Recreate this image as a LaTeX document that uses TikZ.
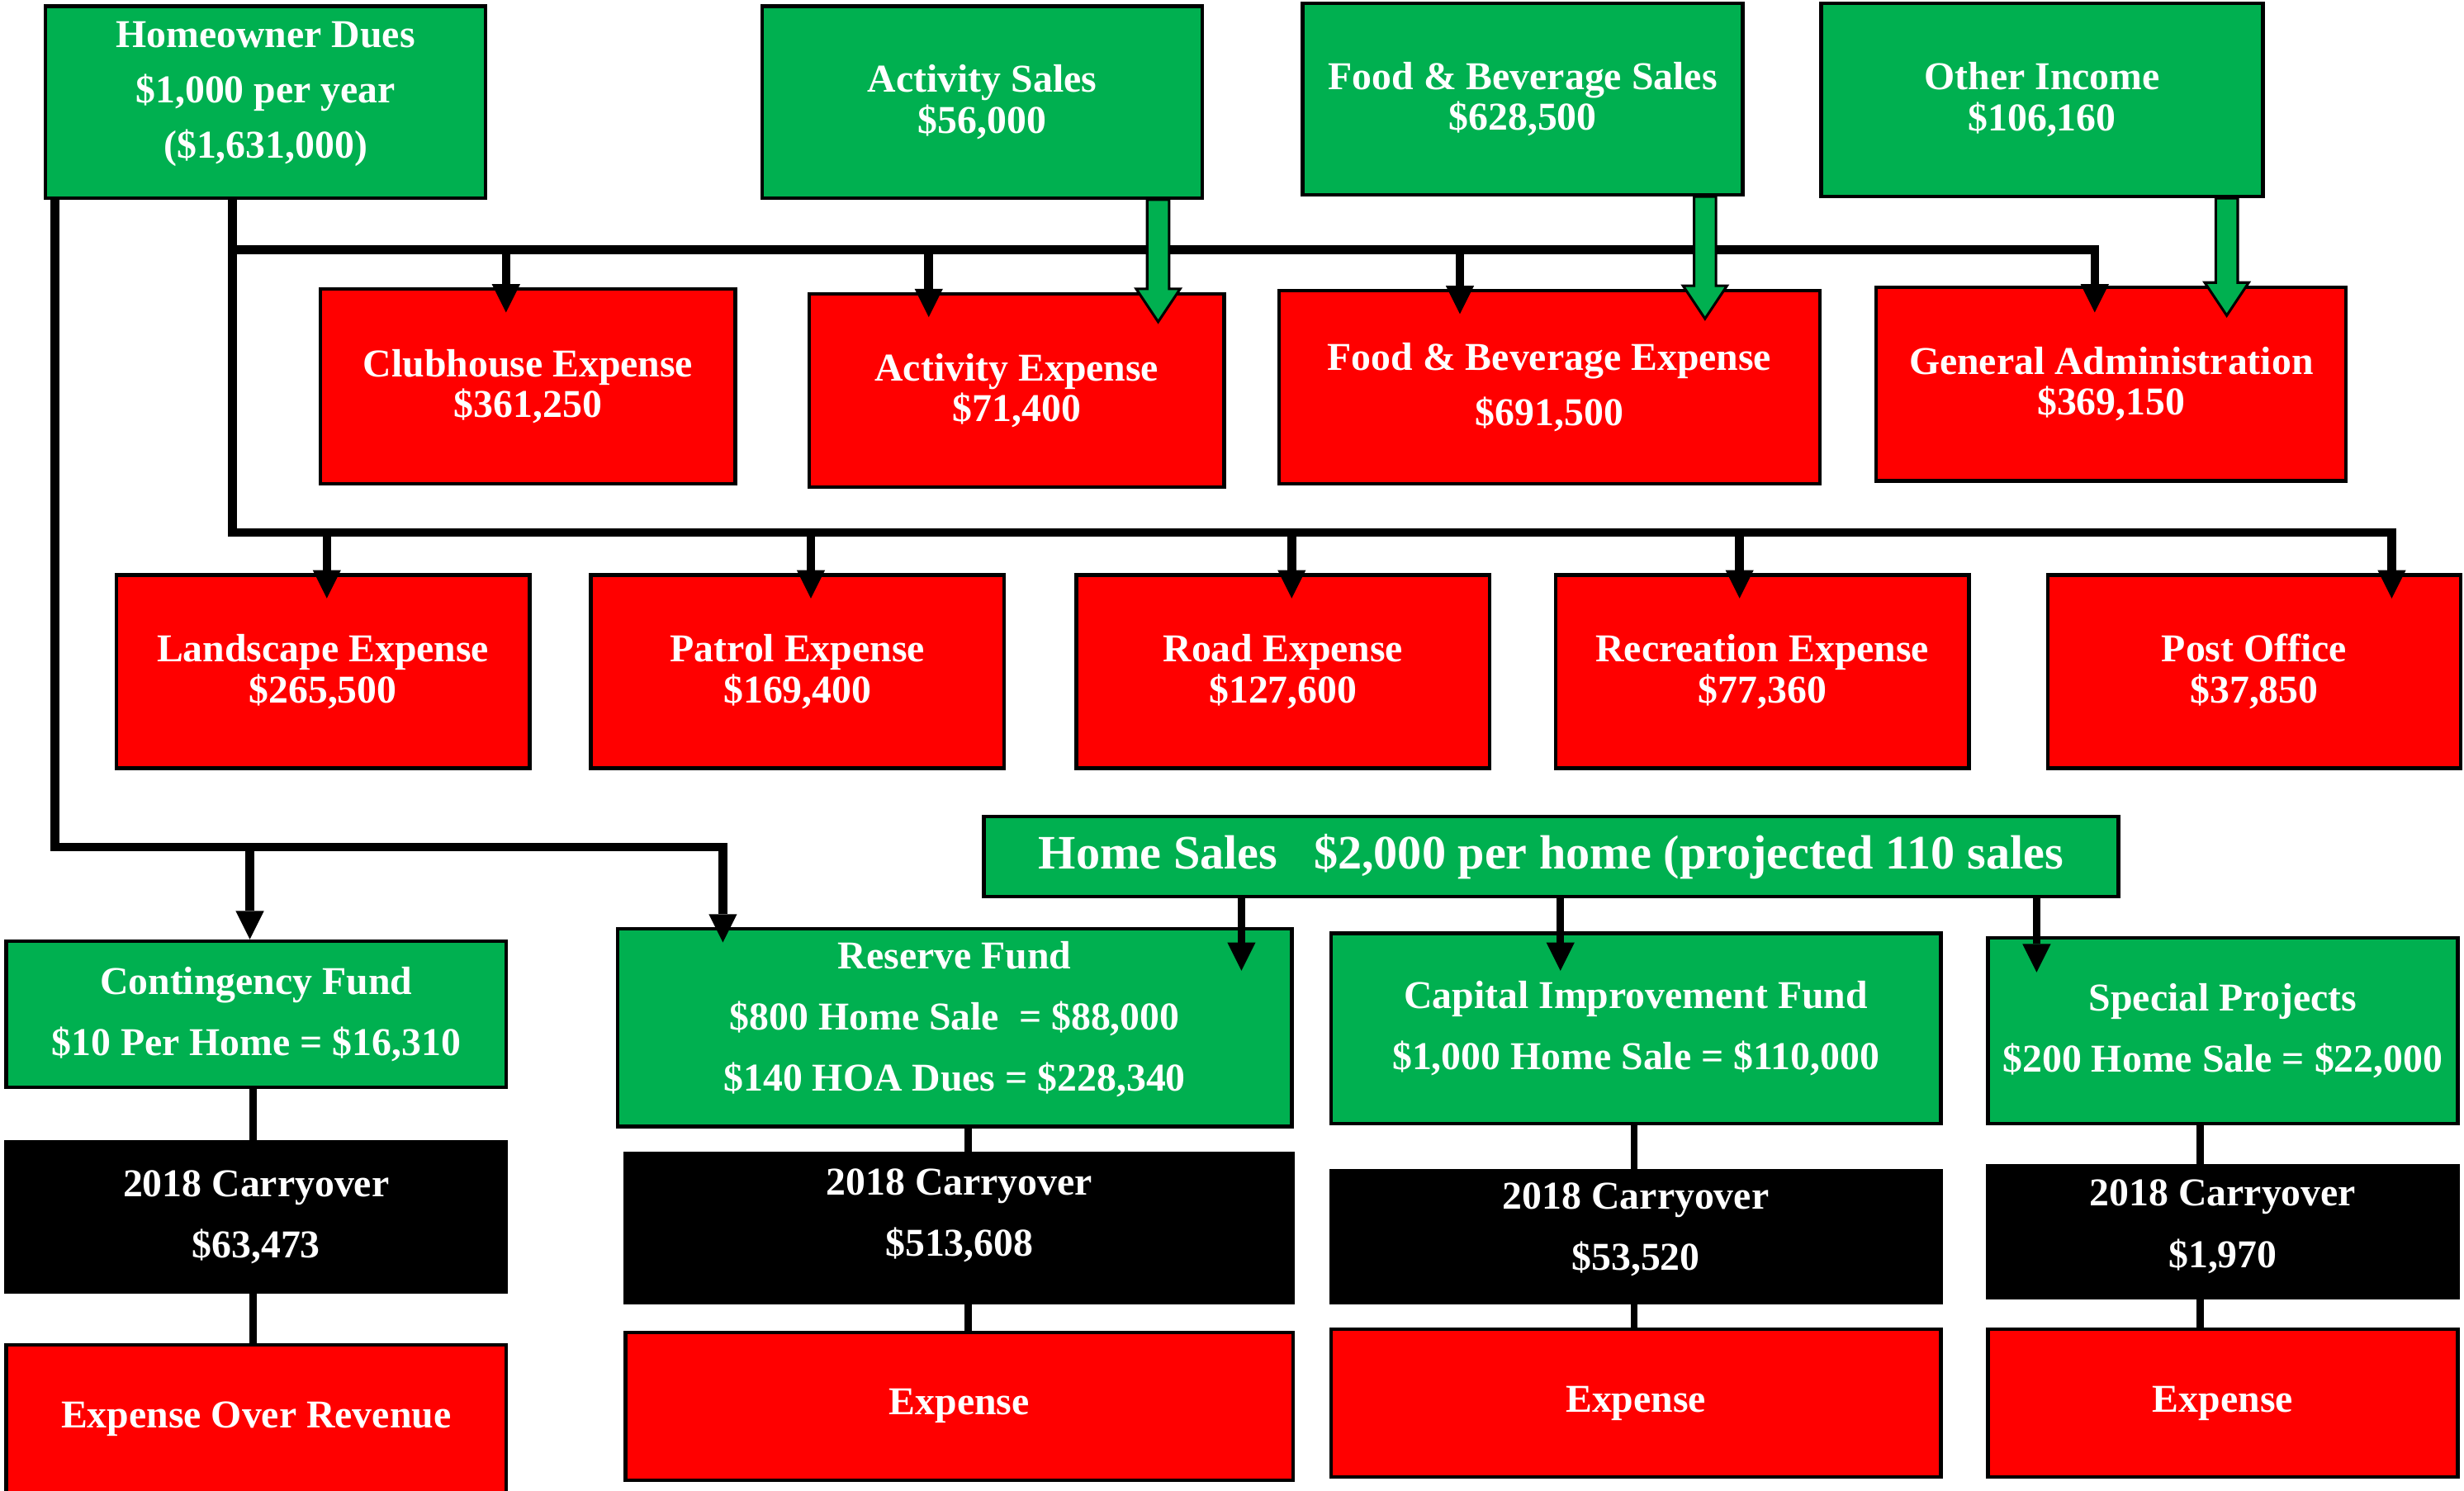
\documentclass[tikz,border=0pt]{standalone}
\usepackage{fontspec}
\setmainfont{Liberation Serif}
\usetikzlibrary{arrows.meta,calc}
\definecolor{hoagreen}{RGB}{0,176,80}
\definecolor{hoared}{RGB}{255,0,0}
\tikzset{
  box/.style  ={draw=black, line width=2.3pt, text=white, align=center, inner sep=0pt},
  gbox/.style ={box, fill=hoagreen},
  rbox/.style ={box, fill=hoared},
  kbox/.style ={box, fill=black},
  wh/.style 2 args={minimum width=#1pt, minimum height=#2pt},
  fA/.style   ={font=\bfseries\fontsize{25.1}{26}\selectfont},
  fB/.style   ={font=\bfseries\fontsize{25.1}{35}\selectfont},
  fC/.style   ={font=\bfseries\fontsize{25.1}{39}\selectfont},
  fH/.style   ={font=\bfseries\fontsize{30.6}{32}\selectfont},
  pipe/.style ={draw=black, line width=5.5pt, line join=miter},
  feed/.style ={pipe, -{Triangle[length=18pt,width=18pt,line width=0pt]}},
  link/.style ={draw=black, line width=4.5pt},
  sale/.style ={link, -{Triangle[length=18pt,width=18pt,line width=0pt]}},
  cash/.style ={fill=hoagreen, draw=black, line width=1.6pt, line join=miter},
}
\begin{document}
\begin{tikzpicture}[x=1pt, y=-1pt]
  \useasboundingbox (0,0) rectangle (1568,949);
  % income
  \node[gbox,wh={280}{122},fB,text depth=15.5pt] (dues) at (169,65) {Homeowner Dues\\\$1,000 per year\\(\$1,631,000)};
  \node[gbox,wh={280}{122},fA] (actS) at (625,65) {Activity Sales\\\$56,000};
  \node[gbox,wh={280}{122},fA] (fbS) at (969,63) {Food \& Beverage Sales\\\$628,500};
  \node[gbox,wh={281}{123},fA] (oth) at (1299.5,63.5) {Other Income\\\$106,160};
  % expenses
  \node[rbox,wh={264}{124},fA] (club) at (336,246) {Clubhouse Expense\\\$361,250};
  \node[rbox,wh={264}{123},fA] (actE) at (647,248.5) {Activity Expense\\\$71,400};
  \node[rbox,wh={344}{123},fB] (fbE) at (986,246.5) {Food \& Beverage Expense\\\$691,500};
  \node[rbox,wh={299}{123},fA] (gadm) at (1343.5,244.5) {General Administration\\\$369,150};
  \node[rbox,wh={263}{123},fA] (land) at (205.5,427.5) {Landscape Expense\\\$265,500};
  \node[rbox,wh={263}{123},fA] (patr) at (507.5,427.5) {Patrol Expense\\\$169,400};
  \node[rbox,wh={263}{123},fA] (road) at (816.5,427.5) {Road Expense\\\$127,600};
  \node[rbox,wh={263}{123},fA] (recr) at (1121.5,427.5) {Recreation Expense\\\$77,360};
  \node[rbox,wh={263}{123},fA] (post) at (1434.5,427.5) {Post Office\\\$37,850};
  % funds
  \node[gbox,wh={722}{51},fH] (home) at (987,545.3) {Home Sales~~~\$2,000 per home (projected 110 sales};
  \node[gbox,wh={318}{93},fC] (cont) at (163,645.5) {Contingency Fund\\\$10 Per Home = \$16,310};
  \node[kbox,wh={318}{95},fC] (contK) at (163,774.5) {2018 Carryover\\\$63,473};
  \node[rbox,wh={318}{94},fC] (contR) at (163,903) {Expense Over Revenue};
  \node[gbox,wh={429}{126},fC,text depth=14.5pt] (resv) at (607.5,654) {Reserve Fund\\\$800 Home Sale~~= \$88,000\\\$140 HOA Dues = \$228,340};
  \node[kbox,wh={425}{95},fC,text depth=19.5pt] (resvK) at (610.5,781.5) {2018 Carryover\\\$513,608};
  \node[rbox,wh={425}{94},fC] (resvR) at (610.5,895) {Expense};
  \node[gbox,wh={388}{121},fC] (capi) at (1041,654.5) {Capital Improvement Fund\\\$1,000 Home Sale = \$110,000};
  \node[kbox,wh={388}{84},fC,text depth=12.5pt] (capiK) at (1041,787) {2018 Carryover\\\$53,520};
  \node[rbox,wh={388}{94},fC] (capiR) at (1041,893) {Expense};
  \node[gbox,wh={299}{118},fC] (spec) at (1414.5,656) {Special Projects\\\$200 Home Sale = \$22,000};
  \node[kbox,wh={299}{84},fC,text depth=10.5pt] (specK) at (1414.5,784) {2018 Carryover\\\$1,970};
  \node[rbox,wh={299}{94},fC] (specR) at (1414.5,893) {Expense};
  % dues lines
  \coordinate (spine) at (148,339);
  \coordinate (busA) at (148,159);
  \coordinate (left) at (35,539);
  \draw[feed,shorten >=-16pt] (dues.south -| spine) -- (spine) -- (1522,339) coordinate (t) -- (t |- post.north);
  \draw[feed,shorten >=-17pt] (busA) -- (1333,159) coordinate (t) -- (t |- gadm.north);
  \foreach \cx/\dst in {322/club,591/actE,929/fbE}{
    \coordinate (t) at (\cx,0);
    \draw[feed,shorten >=-16pt] (busA -| t) -- (t |- \dst.north);
  }
  \foreach \cx/\dst in {208/land,516/patr,822/road,1107/recr}{
    \coordinate (t) at (\cx,0);
    \draw[feed,shorten >=-16pt] (spine -| t) -- (t |- \dst.north);
  }
  \draw[feed,shorten >=-10pt] (dues.south -| left) -- (left) -- (460,539) coordinate (t) -- (t |- resv.north);
  \coordinate (t) at (159,0);
  \draw[feed] (left -| t) -- (t |- cont.north);
  % home sales lines
  \foreach \cx/\dst/\s in {790/resv/28,993/capi/25,1296/spec/23}{
    \coordinate (t) at (\cx,0);
    \draw[sale,shorten >=-\s pt] (home.south -| t) -- (t |- \dst.north);
  }
  % fund columns
  \foreach \cx/\a/\b/\c in {161/cont/contK/contR,616/resv/resvK/resvR,1040/capi/capiK/capiR,1400/spec/specK/specR}{
    \coordinate (t) at (\cx,0);
    \draw[link] (\a.south -| t) -- (\b.north -| t) (\b.south -| t) -- (\c.north -| t);
  }
  % sales into expenses
  \foreach \src/\dst/\cx in {actS/actE/737,fbS/fbE/1085,oth/gadm/1417}
    \filldraw[cash] let \p1=(\src.south), \p2=(\dst.north) in
      (\cx pt-7pt,\y1) -- (\cx pt-7pt,\y2+2pt) -- (\cx pt-14pt,\y2+2pt) -- (\cx pt,\y2-19pt)
      -- (\cx pt+14pt,\y2+2pt) -- (\cx pt+7pt,\y2+2pt) -- (\cx pt+7pt,\y1) -- cycle;
\end{tikzpicture}
\end{document}
